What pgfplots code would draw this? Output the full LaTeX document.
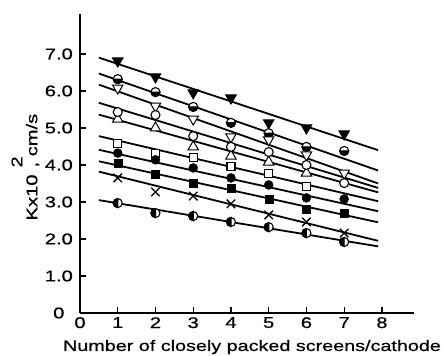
\documentclass[border=0pt]{standalone}
\usepackage{fontspec}
\setmainfont{Liberation Sans}[FakeStretch=1.3, FakeBold=0.6]
\usepackage{pgfplots}
\pgfplotsset{compat=1.18}
\pgfdeclareplotmark{hcdown}{%
  \pgfpathcircle{\pgfpointorigin}{\pgfplotmarksize}%
  \pgfsetfillcolor{white}\pgfusepathqfillstroke
  \pgfpathmoveto{\pgfpoint{-\pgfplotmarksize}{0pt}}%
  \pgfpatharc{180}{360}{\pgfplotmarksize}%
  \pgfpathclose
  \pgfsetfillcolor{black}\pgfusepathqfillstroke}
\pgfdeclareplotmark{hcleft}{%
  \pgfpathcircle{\pgfpointorigin}{\pgfplotmarksize}%
  \pgfsetfillcolor{white}\pgfusepathqfillstroke
  \pgfpathmoveto{\pgfpoint{0pt}{\pgfplotmarksize}}%
  \pgfpatharc{90}{270}{\pgfplotmarksize}%
  \pgfpathclose
  \pgfsetfillcolor{black}\pgfusepathqfillstroke}
\begin{document}
\begin{tikzpicture}
\path[use as bounding box] (-80pt,-42pt) rectangle (363pt,313pt);
\begin{axis}[
  at={(0,0)}, anchor=south west,
  scale only axis, width=334pt, height=299pt,
  xmin=0, xmax=8.85, ymin=0, ymax=8.08,
  axis lines=left, axis line style={line width=1.8pt, -},
  tick align=inside, major tick length=6pt,
  tick style={line width=1.2pt, black},
  xtick={0,1,2,3,4,5,6,7,8},
  xticklabels={0,1,2,3,4,5,6,7,8},
  ytick={0,1,2,3,4,5,6,7},
  yticklabels={0,1.0,2.0,3.0,4.0,5.0,6.0,7.0},
  every tick label/.append style={font=\fontsize{15.5}{18}\selectfont},
  yticklabel style={text width=28pt, align=center, inner sep=0pt, anchor=east, xshift=-7pt},
  xticklabel style={inner sep=0pt, anchor=north, yshift=-4pt},
  xlabel={Number of closely packed screens/cathode},
  xlabel style={at={(axis description cs:0.515,-0.127)}, anchor=base, font=\fontsize{15.2}{18}\selectfont},
  ylabel={Kx10\hspace{7pt}\makebox[0pt][l]{\raisebox{15pt}{2}}, cm/s},
  ylabel style={at={(axis description cs:-0.128,0.488)}, anchor=base, font=\fontsize{15.5}{18}\selectfont},
  clip=false,
]
% regression lines
\addplot[no marks, line width=1.8pt] coordinates {(0.5,6.90) (7.9,4.40)};
\addplot[no marks, line width=1.8pt] coordinates {(0.5,6.47) (7.9,3.85)};
\addplot[no marks, line width=1.8pt] coordinates {(0.5,6.17) (7.9,3.50)};
\addplot[no marks, line width=1.8pt] coordinates {(0.5,5.68) (7.9,3.38)};
\addplot[no marks, line width=1.8pt] coordinates {(0.5,5.36) (7.9,3.26)};
\addplot[no marks, line width=1.8pt] coordinates {(0.5,4.78) (7.9,3.02)};
\addplot[no marks, line width=1.8pt] coordinates {(0.5,4.41) (7.9,2.75)};
\addplot[no marks, line width=1.8pt] coordinates {(0.5,4.10) (7.9,2.45)};
\addplot[no marks, line width=1.8pt] coordinates {(0.5,3.82) (7.9,1.95)};
\addplot[no marks, line width=1.8pt] coordinates {(0.5,3.05) (7.9,1.80)};
% data points
\addplot[only marks, mark=triangle*, mark size=6pt, mark options={rotate=180, fill=black, draw=black, line width=1pt}]
  coordinates {(1,6.81) (2,6.38) (3,5.95) (4,5.81) (5,5.14) (6,5.00) (7,4.84)};
\addplot[only marks, mark=hcdown, mark size=4.5pt, mark options={draw=black, line width=1.1pt}]
  coordinates {(1,6.32) (2,5.97) (3,5.57) (4,5.14) (5,4.86) (6,4.49) (7,4.38)};
\addplot[only marks, mark=triangle*, mark size=6pt, mark options={rotate=180, fill=white, draw=black, line width=1pt}]
  coordinates {(1,6.08) (2,5.59) (3,5.24) (4,4.76) (5,4.68) (6,4.27) (7,3.78)};
\addplot[only marks, mark=triangle*, mark size=6pt, mark options={fill=white, draw=black, line width=1pt}]
  coordinates {(1,5.24) (2,5.00) (3,4.49) (4,4.24) (5,4.08) (6,3.78)};
\addplot[only marks, mark=*, mark size=4.5pt, mark options={fill=white, draw=black, line width=1.1pt}]
  coordinates {(1,5.43) (2,5.35) (3,4.78) (4,4.49) (5,4.35) (6,4.00) (7,3.51)};
\addplot[only marks, mark=square*, mark size=4pt, mark options={fill=white, draw=black, line width=1.1pt}]
  coordinates {(1,4.57) (2,4.32) (3,4.19) (4,3.97) (5,3.78) (6,3.43)};
\addplot[only marks, mark=*, mark size=4.5pt, mark options={fill=black, draw=black}]
  coordinates {(1,4.32) (2,4.14) (3,3.92) (4,3.65) (5,3.46) (6,3.11) (7,3.08)};
\addplot[only marks, mark=square*, mark size=4pt, mark options={fill=black, draw=black}]
  coordinates {(1,4.05) (2,3.76) (3,3.51) (4,3.38) (5,3.08) (6,2.81) (7,2.70)};
\addplot[only marks, mark=x, mark size=6pt, mark options={draw=black, line width=1.3pt}]
  coordinates {(1,3.65) (2,3.27) (3,3.16) (4,2.95) (5,2.65) (6,2.46) (7,2.16)};
\addplot[only marks, mark=hcleft, mark size=4.5pt, mark options={draw=black, line width=1.1pt}]
  coordinates {(1,2.97) (2,2.70) (3,2.62) (4,2.46) (5,2.32) (6,2.16) (7,1.92)};
\end{axis}
\end{tikzpicture}
\end{document}
